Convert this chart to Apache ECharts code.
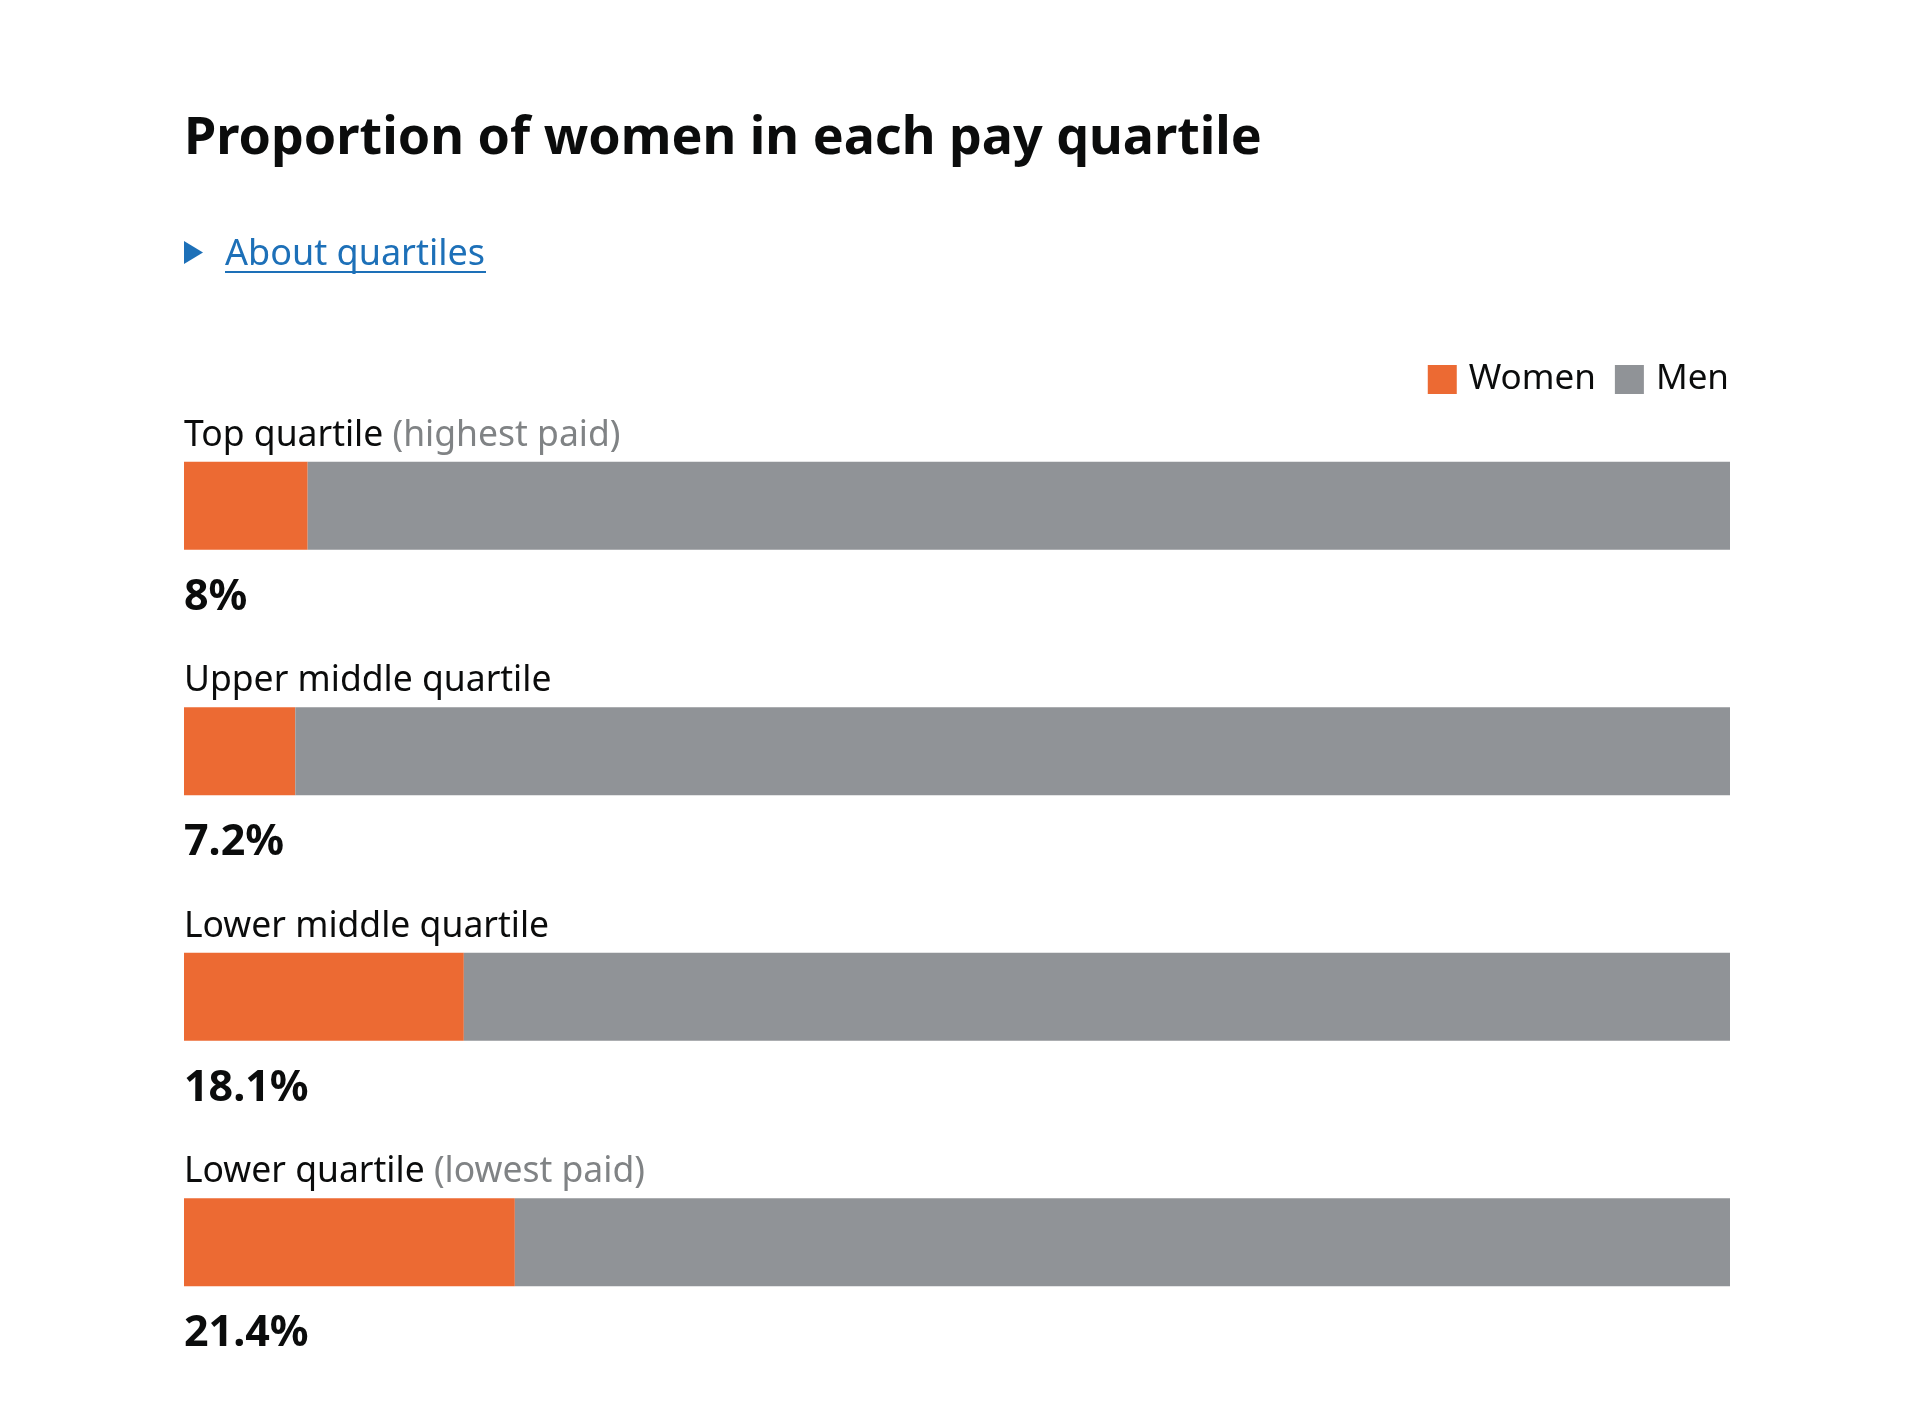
<!DOCTYPE html>
<html>
<head>
<meta charset="utf-8">
<script src="https://cdn.jsdelivr.net/npm/echarts@6/dist/echarts.min.js"></script>
<style>
html,body{margin:0;padding:0;background:#fff;}
#chart{width:1920px;height:1422px;}
</style>
</head>
<body>
<div id="chart"></div>
<script>
// ---- data ----
const titleText = 'Proportion of women in each pay quartile';
const linkText = 'About quartiles';
const catMain = ['Top quartile', 'Upper middle quartile', 'Lower middle quartile', 'Lower quartile'];
const catNote = ['(highest paid)', '', '', '(lowest paid)'];
const women = [8, 7.2, 18.1, 21.4];
const men = [92, 92.8, 81.9, 78.6];
const seriesNames = ['Women', 'Men'];

const FONT = '"Noto Sans", "Liberation Sans", sans-serif';
const chart = echarts.init(document.getElementById('chart'), null, {renderer: 'canvas'});

chart.setOption({
  animation: false,
  backgroundColor: '#ffffff',
  graphic: [
    {type: 'text', left: 184, top: 113,
      style: {text: titleText, font: 'bold 52px ' + FONT, fill: '#0b0c0c'}},
    {type: 'polygon', shape: {points: [[184, 241], [184, 264], [203, 252.5]]},
      style: {fill: '#1d70b8'}},
    {type: 'text', left: 225, top: 237,
      style: {text: linkText, font: '36px ' + FONT, fill: '#1d70b8'}},
    {type: 'rect', shape: {x: 225, y: 271, width: 261, height: 2}, style: {fill: '#1d70b8'}}
  ],
  legend: {
    data: seriesNames,
    right: 186,
    top: 357,
    icon: 'rect',
    itemWidth: 29,
    itemHeight: 29,
    itemGap: 19,
    selectedMode: false,
    textStyle: {fontFamily: FONT, fontSize: 35, color: '#0b0c0c', padding: [0, 0, 0, 7]}
  },
  grid: {left: 184, right: 190, top: 383, bottom: 57, containLabel: false},
  xAxis: {type: 'value', min: 0, max: 100, show: false},
  yAxis: {
    type: 'category',
    inverse: true,
    data: catMain,
    axisLine: {show: false},
    axisTick: {show: false},
    splitLine: {show: false},
    axisLabel: {
      inside: true,
      margin: 0,
      align: 'left',
      verticalAlign: 'bottom',
      padding: [0, 0, 52, 0],
      formatter: function (v, i) {
        return catNote[i] ? '{a|' + v + ' }{b|' + catNote[i] + '}' : '{a|' + v + '}';
      },
      rich: {
        a: {fontFamily: FONT, fontSize: 35.5, color: '#0b0c0c'},
        b: {fontFamily: FONT, fontSize: 35.5, color: '#808385'}
      }
    }
  },
  series: [
    {
      name: seriesNames[0], type: 'bar', stack: 'total', data: women, barWidth: 88,
      itemStyle: {color: '#ec6a33'},
      label: {
        show: true,
        position: ['0%', '100%'],
        align: 'left',
        verticalAlign: 'top',
        padding: [26, 0, 0, 0],
        formatter: function (p) { return p.value + '%'; },
        fontFamily: FONT, fontSize: 43, fontWeight: 'bold', color: '#0b0c0c'
      }
    },
    {
      name: seriesNames[1], type: 'bar', stack: 'total', data: men, barWidth: 88,
      itemStyle: {color: '#909397'}
    }
  ]
});
</script>
</body>
</html>
